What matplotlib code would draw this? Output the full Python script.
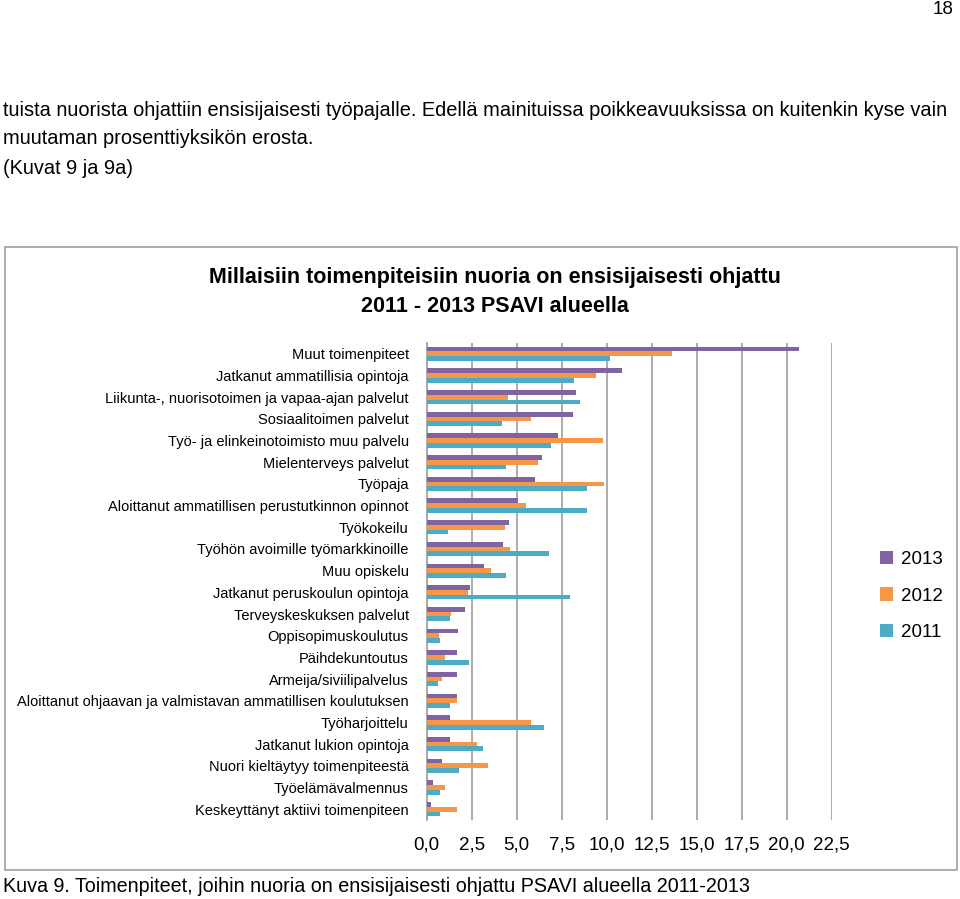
import numpy as np
import matplotlib
matplotlib.use('Agg')
import matplotlib.pyplot as plt
from matplotlib.patches import Rectangle
from matplotlib.ticker import FuncFormatter

plt.rcParams['font.family'] = ['Liberation Sans', 'DejaVu Sans']

# luokat ylhäältä alas
categories = [
    'Muut toimenpiteet',
    'Jatkanut ammatillisia opintoja',
    'Liikunta-, nuorisotoimen ja vapaa-ajan palvelut',
    'Sosiaalitoimen palvelut',
    'Työ- ja elinkeinotoimisto muu palvelu',
    'Mielenterveys palvelut',
    'Työpaja',
    'Aloittanut ammatillisen perustutkinnon opinnot',
    'Työkokeilu',
    'Työhön avoimille työmarkkinoille',
    'Muu opiskelu',
    'Jatkanut peruskoulun opintoja',
    'Terveyskeskuksen palvelut',
    'Oppisopimuskoulutus',
    'Päihdekuntoutus',
    'Armeija/siviilipalvelus',
    'Aloittanut ohjaavan ja valmistavan ammatillisen koulutuksen',
    'Työharjoittelu',
    'Jatkanut lukion opintoja',
    'Nuori kieltäytyy toimenpiteestä',
    'Työelämävalmennus',
    'Keskeyttänyt aktiivi toimenpiteen',
]
v2013 = [20.7, 10.85, 8.3, 8.1, 7.3, 6.4, 6.0, 5.07, 4.57, 4.26, 3.18, 2.4, 2.1, 1.72,
         1.67, 1.67, 1.67, 1.28, 1.28, 0.87, 0.37, 0.24]
v2012 = [13.6, 9.4, 4.5, 5.8, 9.8, 6.2, 9.85, 5.5, 4.35, 4.6, 3.55, 2.28, 1.35, 0.7,
         1.02, 0.85, 1.7, 5.8, 2.8, 3.4, 1.04, 1.7]
v2011 = [10.2, 8.2, 8.5, 4.2, 6.9, 4.4, 8.9, 8.9, 1.17, 6.8, 4.4, 7.96, 1.28, 0.76,
         2.35, 0.63, 1.3, 6.53, 3.13, 1.8, 0.76, 0.76]
years = ['2013', '2012', '2011']
colors = ['#8064A2', '#F79646', '#4BACC6']

W, H = 960, 899
fig = plt.figure(figsize=(9.6, 8.99), dpi=100)

def fx(px):
    return px / W

def fy(py):
    return 1 - py / H

# sivun teksti
fig.text(fx(953), fy(10), '18', ha='right', va='center', fontsize=13.5)
fig.text(fx(3), fy(110), 'tuista nuorista ohjattiin ensisijaisesti työpajalle. Edellä mainituissa '
         'poikkeavuuksissa on kuitenkin kyse vain', ha='left', va='center', fontsize=14.4)
fig.text(fx(3), fy(139), 'muutaman prosenttiyksikön erosta.', ha='left', va='center', fontsize=14.4)
fig.text(fx(3), fy(168), '(Kuvat 9 ja 9a)', ha='left', va='center', fontsize=14.4)
fig.text(fx(3), fy(886), 'Kuva 9. Toimenpiteet, joihin nuoria on ensisijaisesti ohjattu PSAVI alueella 2011-2013',
         ha='left', va='center', fontsize=14.2)

# kaavion kehys
fig.patches.append(Rectangle((fx(5), fy(870)), fx(957) - fx(5), fy(247) - fy(870),
                             transform=fig.transFigure, fill=False, edgecolor='#A0A0A0', lw=1.2))
fig.text(fx(495), fy(277), 'Millaisiin toimenpiteisiin nuoria on ensisijaisesti ohjattu',
         ha='center', va='center', fontsize=15.5, fontweight='bold')
fig.text(fx(495), fy(306), '2011 - 2013 PSAVI alueella',
         ha='center', va='center', fontsize=15.5, fontweight='bold')

ax = fig.add_axes([fx(426.7), fy(820), fx(831.7) - fx(426.7), fy(343) - fy(820)])
y = np.arange(len(categories))
h = 0.22
for i, (vals, yr) in enumerate(zip([v2013, v2012, v2011], years)):
    ax.barh(y + (i - 1) * h, vals, height=h, color=colors[i], label=yr, zorder=3)

ax.set_ylim(len(categories) - 0.5, -0.5)
ax.set_xlim(0, 22.5)
ax.set_yticks(y)
ax.set_yticklabels(categories, fontsize=10.5)
ax.set_xticks(np.arange(0, 22.6, 2.5))
ax.xaxis.set_major_formatter(FuncFormatter(lambda v, p: ('%.1f' % v).replace('.', ',')))
ax.tick_params(axis='x', length=0, labelsize=13.5, pad=12)
ax.tick_params(axis='y', length=0, pad=13)
ax.grid(axis='x', color='#A6A6A6', lw=1.3, zorder=0)
for s in ['top', 'right', 'bottom']:
    ax.spines[s].set_visible(False)
ax.spines['left'].set_color('#A6A6A6')
ax.spines['left'].set_linewidth(1.3)

fig.legend(loc='center left', bbox_to_anchor=(fx(863), fy(596)), frameon=False,
           fontsize=13.5, handlelength=0.7, handleheight=0.7, handletextpad=0.45,
           labelspacing=1.05)

fig.savefig('out.png', dpi=100)
